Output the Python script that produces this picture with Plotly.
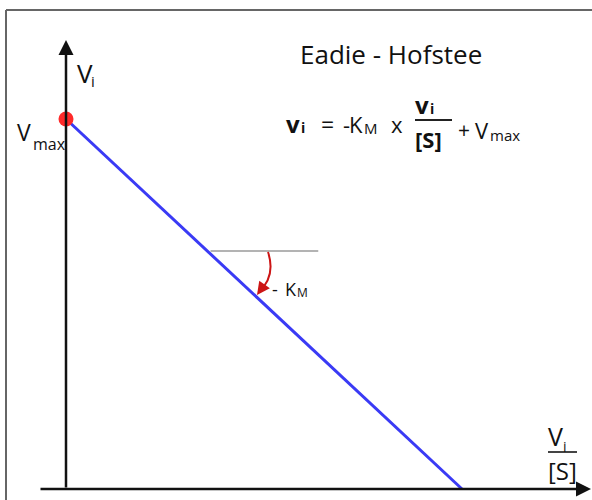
import plotly.graph_objects as go

# ---- data (Eadie-Hofstee: v = -Km * v/[S] + Vmax) ----
Vmax = 100.0
Km = 2.0
x_intercept = Vmax / Km
line_x = [0.0, x_intercept]
line_y = [Vmax, 0.0]
tangent_y = 64.3          # level of the slope marker
tangent_len = 14.0        # length of the horizontal reference segment

W, H = 592, 500
OX, OY = 66, 489
SX, SY = 7.92, 3.7
xr = [(0 - OX) / SX, (W - OX) / SX]
yr = [(OY - H) / SY, OY / SY]


def P(px, py):
    return px / W, 1 - py / H


def DX(px):
    return (px - OX) / SX


def DY(py):
    return (OY - py) / SY


fig = go.Figure()
fig.add_trace(go.Scatter(x=line_x, y=line_y, mode="lines",
                         line=dict(color="#3a3af5", width=3), hoverinfo="skip"))
fig.add_trace(go.Scatter(x=[0], y=[Vmax], mode="markers",
                         marker=dict(color="#ff2a2a", size=15), hoverinfo="skip"))

tx = (Vmax - tangent_y) / Km
shapes = [
    dict(type="line", xref="x", yref="y", x0=tx + 0.4, x1=tx + tangent_len, y0=tangent_y, y1=tangent_y,
         line=dict(color="#9a9a9a", width=1.5)),
    # frame
    dict(type="line", xref="paper", yref="paper", x0=P(6, 10)[0], y0=P(6, 10)[1], x1=1.01, y1=P(6, 10)[1],
         line=dict(color="#666666", width=2)),
    dict(type="line", xref="paper", yref="paper", x0=P(6, 10)[0], y0=P(6, 10)[1], x1=P(6, 10)[0], y1=-0.01,
         line=dict(color="#666666", width=2)),
    # fraction bars
    dict(type="line", xref="paper", yref="paper", x0=P(415, 120)[0], x1=P(452, 120)[0], y0=P(0, 120)[1], y1=P(0, 120)[1],
         line=dict(color="#222222", width=2)),
    dict(type="line", xref="paper", yref="paper", x0=P(548, 452)[0], x1=P(577, 452)[0], y0=P(0, 452)[1], y1=P(0, 452)[1],
         line=dict(color="#444444", width=2)),
]
a = P(268, 252); c = P(276, 276); b = P(259, 292)
shapes.append(dict(type="path", xref="paper", yref="paper",
                   path=f"M {a[0]},{a[1]} Q {c[0]},{c[1]} {b[0]},{b[1]}",
                   line=dict(color="#cc1515", width=2)))
fig.update_layout(shapes=shapes)

F = "Open Sans, DejaVu Sans, sans-serif"


def txt(text, px, base, size, xa="left", color="#111111"):
    # place text by its left edge / centre and approximate baseline
    x, y = P(px, base - 0.36 * size)
    fig.add_annotation(text=text, x=x, y=y, xref="paper", yref="paper", xanchor=xa, yanchor="middle",
                       showarrow=False, borderpad=0, font=dict(family=F, size=size, color=color))


# axes arrows
fig.add_annotation(x=0, y=DY(40), ax=0, ay=0, xref="x", yref="y", axref="x", ayref="y",
                   showarrow=True, arrowhead=2, arrowsize=1.2, arrowwidth=2.5, arrowcolor="#111111", text="")
fig.add_annotation(x=DX(591), y=0, ax=DX(39), ay=0, xref="x", yref="y", axref="x", ayref="y",
                   showarrow=True, arrowhead=2, arrowsize=1.2, arrowwidth=2.5, arrowcolor="#111111", text="")
fig.add_annotation(x=P(257, 295)[0], y=P(257, 295)[1], xref="paper", yref="paper", ax=5, ay=-7,
                   showarrow=True, arrowhead=2, arrowsize=1.3, arrowwidth=2, arrowcolor="#cc1515", text="")

# title
txt("Eadie - Hofstee", 391, 63, 26, xa="center")
# formula
txt("<b>v</b>", 285, 132, 24)
txt("<b>i</b>", 300, 133, 14)
txt("=", 320, 132, 23)
txt("-", 342, 132, 22)
txt("K", 348, 132, 22)
txt("M", 363, 133, 15)
txt("x", 390, 132, 22)
txt("<b>v</b>", 414, 113, 24)
txt("<b>i</b>", 429, 114, 14)
txt("<b>[S]</b>", 428, 147, 22, xa="center")
txt("+", 457, 138, 21)
txt("V", 474, 138, 22)
txt("max", 489, 140, 15)
# y-axis label
txt("V", 76, 82, 26)
txt("i", 90, 86, 15)
# Vmax label
txt("V", 16, 140, 23)
txt("max", 32, 150, 16)
# slope label
txt("-", 271, 295, 18)
txt("K", 284, 295, 18)
txt("M", 296, 297, 12)
# x-axis label
txt("V", 547, 445, 25)
txt("i", 562, 452, 14)
txt("[S]", 562, 479, 24, xa="center")

fig.update_xaxes(visible=False, range=xr, fixedrange=True)
fig.update_yaxes(visible=False, range=yr, fixedrange=True)
fig.update_layout(width=W, height=H, margin=dict(l=0, r=0, t=0, b=0),
                  paper_bgcolor="white", plot_bgcolor="white", showlegend=False)

fig.write_html("out.html", config={"displayModeBar": False},
               post_script="document.body.style.margin='0';document.body.style.overflow='hidden';")
